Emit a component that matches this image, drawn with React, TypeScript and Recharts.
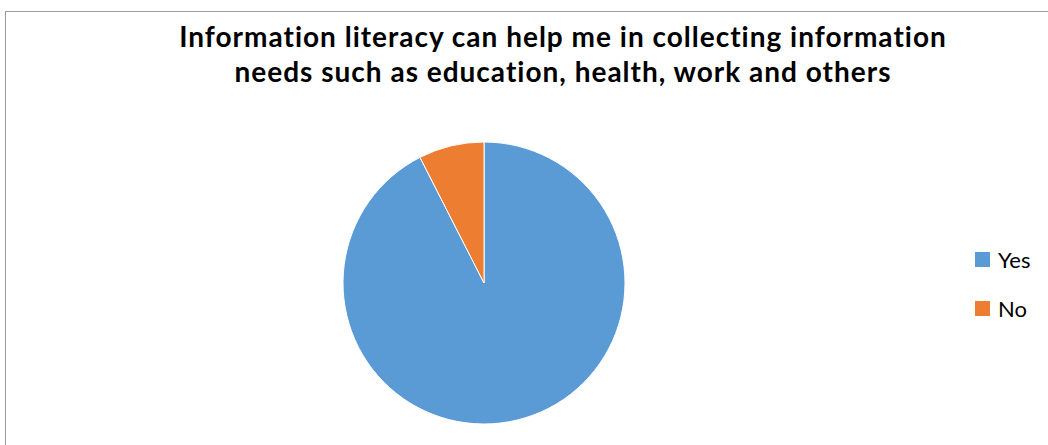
import { PieChart, Pie, Cell, Legend } from "recharts"

const labels = ["Yes", "No"]
const values = [92.5, 7.5]
const colors = ["#5B9BD5", "#ED7D31"]

const titleLines = [
  "Information literacy can help me in collecting information",
  "needs such as education, health, work and others",
]

const data = labels.map((name, i) => ({ name, value: values[i] }))

// legend drawn in data order (Yes, No)
function LegendBox() {
  return (
    <div style={{ fontFamily: "Lato, 'Open Sans', sans-serif", fontSize: 22, color: "#000" }}>
      {labels.map((name, i) => (
        <div key={name} style={{ display: "flex", alignItems: "center", height: 49 }}>
          <span style={{ width: 15, height: 15, background: colors[i], display: "inline-block", marginRight: 8 }} />
          <span>{name}</span>
        </div>
      ))}
    </div>
  )
}

export default function App() {
  return (
    <div style={{ position: "absolute", left: 0, top: 0, width: 1048, height: 445, overflow: "hidden", background: "#fff" }}>
      <div style={{ position: "absolute", left: 5, top: 11, width: 1100, height: 500, border: "1.5px solid #9a9a9a", boxSizing: "border-box" }} />
      {titleLines.map((t, i) => (
        <div
          key={i}
          style={{
            position: "absolute",
            left: 0,
            width: 1126,
            top: 19 + i * 35,
            textAlign: "center",
            fontFamily: "Lato, 'Open Sans', sans-serif",
            fontWeight: 700,
            fontSize: 28,
            letterSpacing: 1,
            lineHeight: "34px",
            color: "#000",
            whiteSpace: "nowrap",
          }}
        >
          {t}
        </div>
      ))}
      <div style={{ position: "absolute", left: 0, top: 0 }}>
        <PieChart width={1048} height={445} margin={{ top: 0, right: 0, bottom: 0, left: 0 }}>
          <Pie
            data={data}
            dataKey="value"
            nameKey="name"
            cx={484}
            cy={283}
            outerRadius={141}
            startAngle={90}
            endAngle={-270}
            stroke="#ffffff"
            strokeWidth={1}
            isAnimationActive={false}
          >
            {data.map((_, i) => (
              <Cell key={i} fill={colors[i]} />
            ))}
          </Pie>
          <Legend
            layout="vertical"
            content={<LegendBox />}
            wrapperStyle={{ position: "absolute", left: 975, top: 235, width: 70 }}
          />
        </PieChart>
      </div>
    </div>
  )
}
